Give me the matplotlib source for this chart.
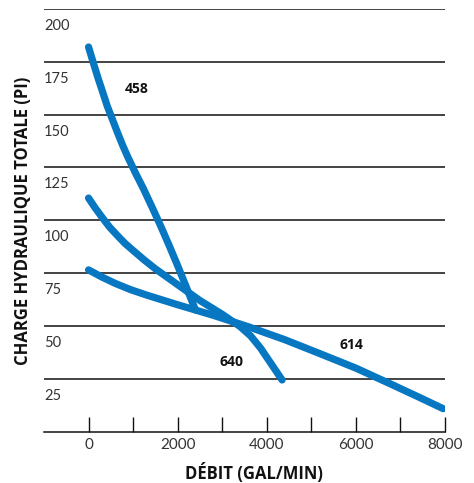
import matplotlib
matplotlib.use('Agg')
import matplotlib.pyplot as plt
import matplotlib.transforms as mtransforms

plt.rcParams['font.family'] = ['Lato', 'DejaVu Sans']
BOLD = ['Open Sans', 'DejaVu Sans']

# ===== données =====
x_458 = [0, 100, 210, 320, 420, 540, 650, 765, 880, 1050, 1230, 1430,
         1625, 1810, 2000, 2220, 2400]
y_458 = [182, 175, 167.5, 160.5, 154, 147.5, 141.5, 135.5, 130, 122.5,
         115, 106, 97, 88, 78.5, 67, 57.5]

x_640 = [0, 150, 300, 470, 650, 820, 1000, 1250, 1500, 2000, 2500, 3000,
         3400, 3640, 3860, 4100, 4344]
y_640 = [110.5, 105.8, 101.5, 96.8, 92.7, 89, 85.7, 81.2, 77, 69.5, 62,
         55.5, 49.7, 45.2, 39.5, 32, 24.4]

x_614 = [0, 300, 600, 950, 1300, 2000, 2800, 3600, 4400, 5200, 6000,
         6800, 7400, 7960]
y_614 = [76.5, 73.1, 70.1, 67.1, 64.6, 60, 55, 49.5, 43.5, 36.8, 30,
         22.3, 16.4, 10.8]

curve_labels = ['458', '640', '614']
label_pos = [(1070, 162), (3210, 33), (5890, 41)]

y_ticks = [25, 50, 75, 100, 125, 150, 175, 200]
x_major = [0, 2000, 4000, 6000, 8000]
x_minor = [0, 1000, 2000, 3000, 4000, 5000, 6000, 7000, 8000]

BLUE = '#0877C1'

fig = plt.figure(figsize=(4.74, 4.83), dpi=100)
ax = fig.add_axes([0.0928, 0.1066, 0.8460, 0.8748])

# lignes horizontales
for v in y_ticks:
    ax.axhline(v, color='#111111', lw=1.1, zorder=1)

for xs, ys in [(x_458, y_458), (x_640, y_640), (x_614, y_614)]:
    ax.plot(xs, ys, color=BLUE, lw=5.2, solid_capstyle='round',
            solid_joinstyle='round', zorder=3)

for name, (lx, ly) in zip(curve_labels, label_pos):
    ax.text(lx, ly, name, fontsize=10, fontweight='bold', family=BOLD,
            color='#111111', ha='center', va='center', zorder=4)

# étiquettes de l'axe y, sous chaque ligne
off = mtransforms.ScaledTranslation(0, -17 / 100, fig.dpi_scale_trans)
blend = mtransforms.blended_transform_factory(ax.transAxes, ax.transData)
for v in y_ticks:
    ax.text(0.0, v, str(v), transform=blend + off, fontsize=10.5,
            color='#333333', ha='left', va='center')

ax.set_xlim(-1000, 8000)
ax.set_ylim(0, 200)
ax.set_yticks([])
ax.set_xticks(x_minor)
ax.set_xticklabels([str(t) if t in x_major else '' for t in x_minor])
ax.tick_params(axis='x', direction='in', length=11, width=1.0,
               color='#111111', labelsize=11, labelcolor='#333333', pad=5)

for s in ['top', 'right', 'left']:
    ax.spines[s].set_visible(False)
ax.spines['bottom'].set_color('#111111')
ax.spines['bottom'].set_linewidth(1.1)

fig.text(253.5 / 474, 1 - 473 / 483, 'DÉBIT (GAL/MIN)', fontsize=12,
         fontweight='bold', family=BOLD, color='#111111',
         ha='center', va='center')
fig.text(23 / 474, 1 - 221 / 483, 'CHARGE HYDRAULIQUE TOTALE (PI)',
         rotation=90, fontsize=12, fontweight='bold', family=BOLD,
         color='#111111', ha='center', va='center')

plt.savefig('out.png', dpi=100)
